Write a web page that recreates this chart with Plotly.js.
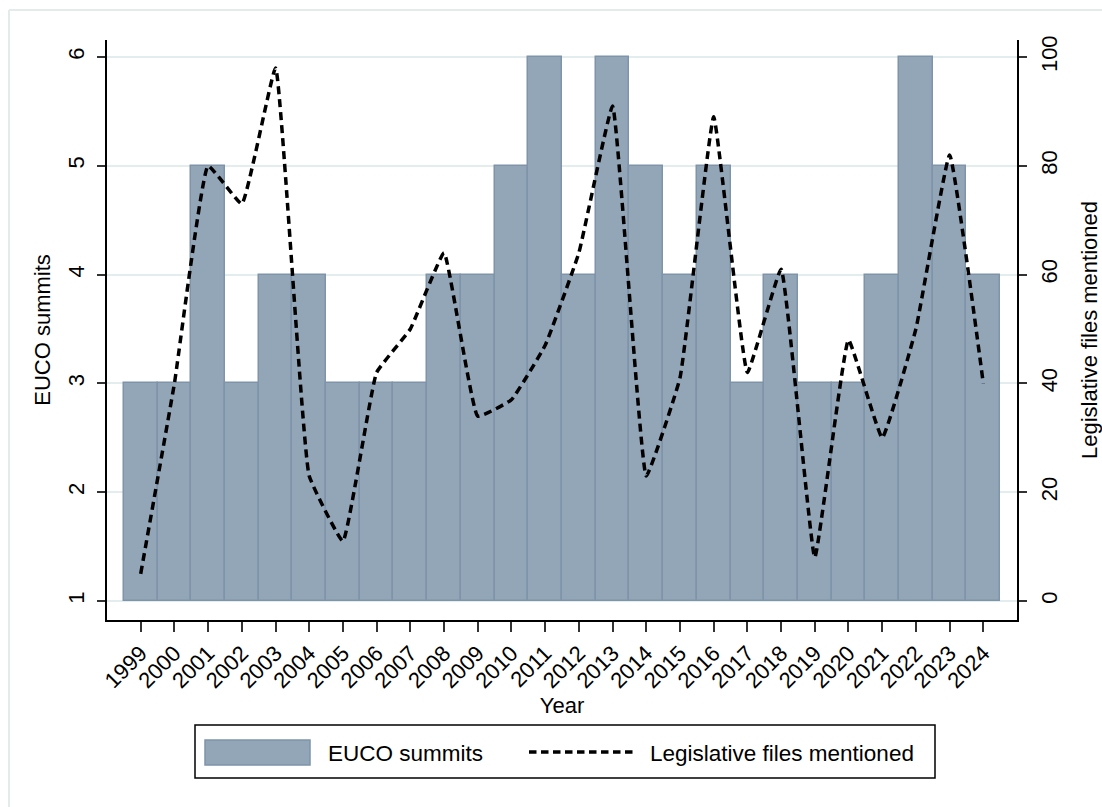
<!DOCTYPE html>
<html>
<head>
<meta charset="utf-8">
<script src="https://cdn.plot.ly/plotly-3.0.1.min.js"></script>
<style>html,body{margin:0;padding:0;background:#fff;}#chart{width:1102px;height:807px;}</style>
</head>
<body>
<div id="chart"></div>
<script>
const years = [1999,2000,2001,2002,2003,2004,2005,2006,2007,2008,2009,2010,2011,2012,2013,2014,2015,2016,2017,2018,2019,2020,2021,2022,2023,2024];
const yearLabels = years.map(String);
const eucoSummits = [3,3,5,3,4,4,3,3,3,4,4,5,6,4,6,5,4,5,3,4,3,3,4,6,5,4];
const legislativeFiles = [5,40,80,73,98,23,11,42,50,64,34,37,47,64,91,23,41,89,42,61,8,48,30,50,82,40];
const leftTicks = [1,2,3,4,5,6];
const rightTicks = [0,20,40,60,80,100];

const FONT = '"Liberation Sans", Arial, sans-serif';
const BASE = 1;
const TICKSIZE = 22;
const TITLESIZE = 22;
const LEGSIZE = 22.5;

const bars = {
  type: 'bar', name: 'EUCO summits',
  x: years, y: eucoSummits.map(v => v - BASE), base: BASE,
  width: 1,
  marker: {color: '#93a6b8', line: {color: '#8094a9', width: 1.5}},
  yaxis: 'y', showlegend: false,
  customdata: eucoSummits, hovertemplate: '%{x}: %{customdata}<extra></extra>'
};
const line = {
  type: 'scatter', mode: 'lines', name: 'Legislative files mentioned',
  x: years, y: legislativeFiles, yaxis: 'y2',
  line: {color: '#000', width: 3.5, dash: '8px,5px', shape: 'spline', smoothing: 0.3},
  showlegend: false
};

// plot area: x 107..1017, y 40..620
const W = 910, H = 580;
const px = x => (x - 107) / W;
const py = y => (620 - y) / H;

const layout = {
  width: 1102, height: 807,
  margin: {l: 107, r: 85, t: 40, b: 187},
  paper_bgcolor: '#fff', plot_bgcolor: '#fff',
  font: {family: FONT, size: TICKSIZE, color: '#000'},
  showlegend: false,
  bargap: 0,
  xaxis: {
    range: [1998, 2025], tickvals: years, ticktext: yearLabels,
    tickangle: -45, ticks: 'outside', ticklen: 10, tickwidth: 1.5, tickcolor: '#333',
    showline: true, linecolor: '#000', linewidth: 1.5, showgrid: false, zeroline: false,
    tickfont: {family: FONT, size: TICKSIZE, color: '#000'},
    title: {text: 'Year', font: {family: FONT, size: TITLESIZE, color: '#000'}, standoff: 0},
    automargin: false
  },
  yaxis: {
    range: [0.825, 6.156], tickvals: leftTicks, tickangle: -90,
    ticks: 'outside', ticklen: 8, tickwidth: 1.5, tickcolor: '#333',
    showline: true, linecolor: '#000', linewidth: 1.5,
    showgrid: true, gridcolor: '#e4eded', gridwidth: 1.5, zeroline: false,
    tickfont: {family: FONT, size: TICKSIZE, color: '#000'},
    ticklabelstandoff: 4,
    title: {text: 'EUCO summits', font: {family: FONT, size: TITLESIZE, color: '#000'}, standoff: 8},
    automargin: false
  },
  yaxis2: {
    overlaying: 'y', side: 'right',
    range: [-3.49, 103.13], tickvals: rightTicks, tickangle: -90,
    ticks: 'outside', ticklen: 8, tickwidth: 1.5, tickcolor: '#333',
    showline: true, linecolor: '#000', linewidth: 1.5,
    showgrid: false, zeroline: false,
    tickfont: {family: FONT, size: TICKSIZE, color: '#000'},
    ticklabelstandoff: 4,
    title: {text: 'Legislative files mentioned', font: {family: FONT, size: TITLESIZE, color: '#000'}, standoff: 22},
    automargin: false
  },
  shapes: [
    {type: 'line', xref: 'paper', yref: 'paper', x0: px(9), x1: px(1110), y0: py(10), y1: py(10), line: {color: '#e3ebeb', width: 2}},
    {type: 'line', xref: 'paper', yref: 'paper', x0: px(9), x1: px(9), y0: py(10), y1: py(815), line: {color: '#e3ebeb', width: 2}},
    {type: 'rect', xref: 'paper', yref: 'paper', x0: px(195), x1: px(935), y0: py(778), y1: py(725), line: {color: '#000', width: 1.5}, fillcolor: 'rgba(0,0,0,0)'},
    {type: 'rect', xref: 'paper', yref: 'paper', x0: px(205), x1: px(310), y0: py(765), y1: py(740), line: {color: '#8094a9', width: 1.5}, fillcolor: '#93a6b8'},
    {type: 'line', xref: 'paper', yref: 'paper', x0: px(529), x1: px(634), y0: py(752), y1: py(752), line: {color: '#000', width: 3.5, dash: '7.5px,4.5px'}}
  ],
  annotations: [
    {xref: 'paper', yref: 'paper', x: px(326), y: py(753), xanchor: 'left', yanchor: 'middle', showarrow: false, text: 'EUCO summits', font: {family: FONT, size: LEGSIZE, color: '#000'}},
    {xref: 'paper', yref: 'paper', x: px(648), y: py(753), xanchor: 'left', yanchor: 'middle', showarrow: false, text: 'Legislative files mentioned', font: {family: FONT, size: LEGSIZE, color: '#000'}}
  ]
};

Plotly.newPlot('chart', [bars, line], layout, {displayModeBar: false});
</script>
</body>
</html>
